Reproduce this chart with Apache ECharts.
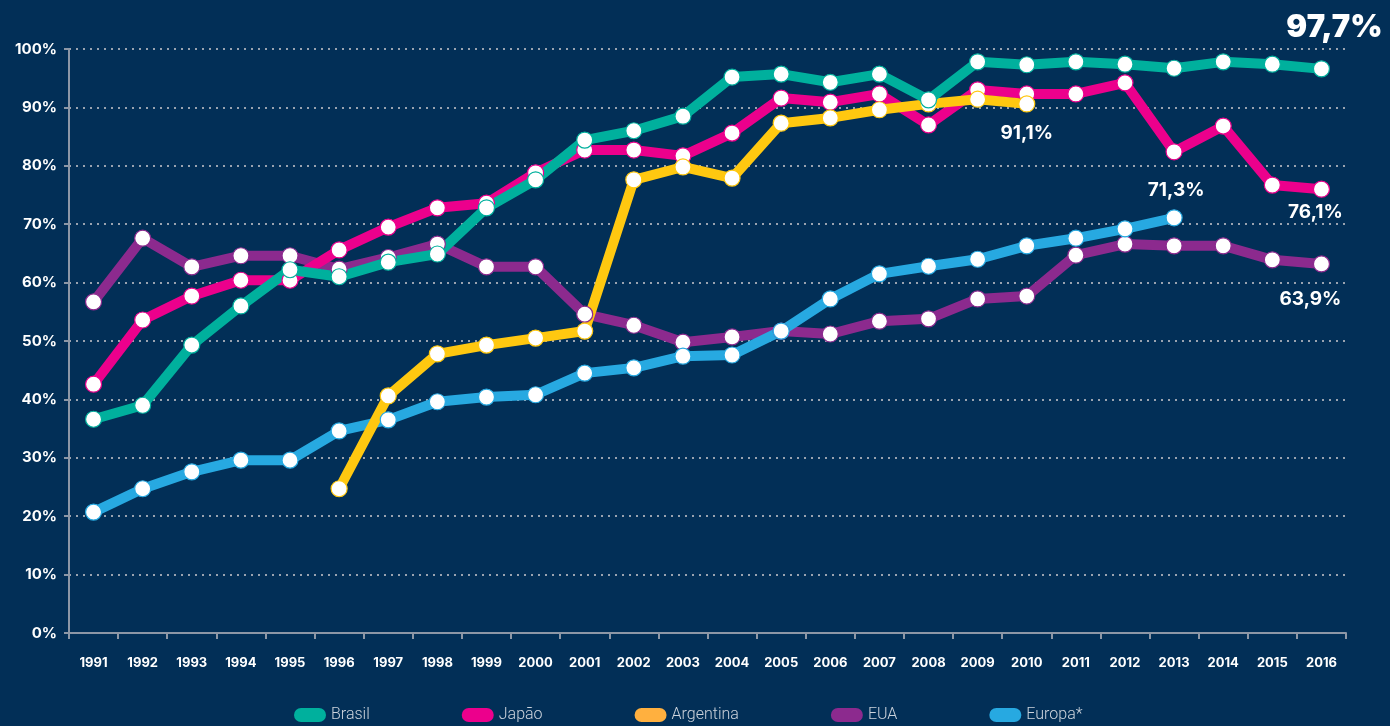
<!DOCTYPE html>
<html>
<head>
<meta charset="utf-8">
<script src="https://cdn.jsdelivr.net/npm/echarts@6/dist/echarts.min.js"></script>
<style>
  html, body { margin: 0; padding: 0; background: #022f57; }
  #chart { width: 1390px; height: 726px; }
</style>
</head>
<body>
<div id="chart"></div>
<script>
const years = ["1991", "1992", "1993", "1994", "1995", "1996", "1997", "1998", "1999", "2000",
  "2001", "2002", "2003", "2004", "2005", "2006", "2007", "2008", "2009", "2010",
  "2011", "2012", "2013", "2014", "2015", "2016"];

const brasil = [36.6, 39.0, 49.3, 56.0, 62.2, 61.0, 63.5, 64.9, 72.8, 77.6,
  84.4, 86.0, 88.5, 95.2, 95.7, 94.3, 95.7, 91.3, 97.8, 97.3,
  97.8, 97.4, 96.7, 97.8, 97.4, 96.6];
const japao = [42.6, 53.6, 57.7, 60.4, 60.4, 65.6, 69.5, 72.8, 73.6, 78.8,
  82.7, 82.7, 81.7, 85.6, 91.6, 90.9, 92.3, 87.0, 93.0, 92.3,
  92.3, 94.2, 82.4, 86.8, 76.7, 76.0];
const argentina = [null, null, null, null, null, 24.7, 40.6, 47.8, 49.3, 50.5,
  51.7, 77.6, 79.8, 77.9, 87.3, 88.2, 89.6, 90.6, 91.4, 90.6,
  null, null, null, null, null, null];
const eua = [56.7, 67.6, 62.7, 64.6, 64.6, 62.3, 64.3, 66.6, 62.7, 62.7,
  54.6, 52.7, 49.8, 50.7, 51.7, 51.2, 53.4, 53.8, 57.2, 57.7,
  64.7, 66.6, 66.3, 66.3, 63.9, 63.2];
const europa = [20.7, 24.7, 27.6, 29.6, 29.6, 34.6, 36.5, 39.6, 40.4, 40.8,
  44.5, 45.4, 47.4, 47.6, 51.7, 57.2, 61.5, 62.8, 64.0, 66.3,
  67.6, 69.2, 71.1, null, null, null];

// rótulos de destaque: [índice do ano, texto]
const brasilTag = [25, "97,7%"];
const japaoTag = [25, "76,1%"];
const argentinaTag = [19, "91,1%"];
const euaTag = [25, "63,9%"];
const europaTag = [22, "71,3%"];

const colors = {
  Brasil: "#00b09d",
  "Japão": "#ec008c",
  Argentina: "#ffc810",
  EUA: "#8c2a8e",
  "Europa*": "#27a9e1"
};
const legendColors = {
  Brasil: "#00b09d",
  "Japão": "#ec008c",
  Argentina: "#ffb03f",
  EUA: "#8c2a8e",
  "Europa*": "#27a9e1"
};

function withTag(values, tag, tagStyle) {
  return values.map((v, i) => {
    if (i !== tag[0]) return v;
    return {
      value: v,
      label: Object.assign({
        show: true,
        formatter: tag[1],
        position: "inside",
        align: "center",
        verticalAlign: "middle",
        color: "#ffffff",
        fontFamily: "Inter",
        fontWeight: "bold",
        fontSize: 19
      }, tagStyle)
    };
  });
}

function makeSeries(name, data) {
  return {
    name: name,
    type: "line",
    data: data,
    symbol: "circle",
    symbolSize: 16,
    showAllSymbol: true,
    connectNulls: false,
    lineStyle: { width: 10, color: colors[name], join: "round", cap: "round" },
    itemStyle: { color: "#ffffff", borderColor: colors[name], borderWidth: 1.2 },
    emphasis: { disabled: true }
  };
}

const chart = echarts.init(document.getElementById("chart"));

const legendNames = ["Brasil", "Japão", "Argentina", "EUA", "Europa*"];

chart.setOption({
  backgroundColor: "#022f57",
  animation: false,
  grid: { left: 69, right: 44, top: 49, bottom: 93 },
  legend: {
    bottom: 3,
    left: 294,
    padding: 0,
    itemGap: 92,
    itemWidth: 32,
    itemHeight: 14,
    icon: "path://M7,0 H25 A7,7 0 0 1 25,14 H7 A7,7 0 0 1 7,0 Z",
    textStyle: { color: "#ccd3dc", fontFamily: "Roboto", fontSize: 16, fontWeight: 300 },
    data: legendNames.map(n => ({
      name: n,
      itemStyle: { color: legendColors[n], borderWidth: 0 }
    }))
  },
  xAxis: {
    type: "category",
    data: years,
    boundaryGap: true,
    axisLine: { lineStyle: { color: "#8d97a6", width: 2 } },
    axisTick: { show: true, length: 6, lineStyle: { color: "#8d97a6", width: 2 } },
    axisLabel: {
      color: "#ffffff",
      fontFamily: "Inter",
      fontWeight: "bold",
      fontSize: 13,
      margin: 24,
      interval: 0
    },
    splitLine: { show: false }
  },
  yAxis: {
    type: "value",
    min: 0,
    max: 100,
    interval: 10,
    axisLine: { show: true, lineStyle: { color: "#8d97a6", width: 2 } },
    axisTick: { show: true, length: 5, lineStyle: { color: "#8d97a6", width: 2 } },
    axisLabel: {
      color: "#ffffff",
      fontFamily: "Inter",
      fontWeight: "bold",
      fontSize: 15,
      margin: 12,
      formatter: "{value}%"
    },
    splitLine: {
      show: true,
      lineStyle: { color: "#9aa3b0", width: 2, type: [2, 5] }
    }
  },
  series: [
    makeSeries("EUA", withTag(eua, euaTag, { offset: [-11, 35] })),
    makeSeries("Europa*", withTag(europa, europaTag, { offset: [2, -27] })),
    makeSeries("Japão", withTag(japao, japaoTag, { offset: [-6, 23] })),
    makeSeries("Argentina", withTag(argentina, argentinaTag, { offset: [0, 29] })),
    makeSeries("Brasil", withTag(brasil, brasilTag, { offset: [13, -41], fontSize: 31, fontWeight: 900 }))
  ]
});
</script>
</body>
</html>
